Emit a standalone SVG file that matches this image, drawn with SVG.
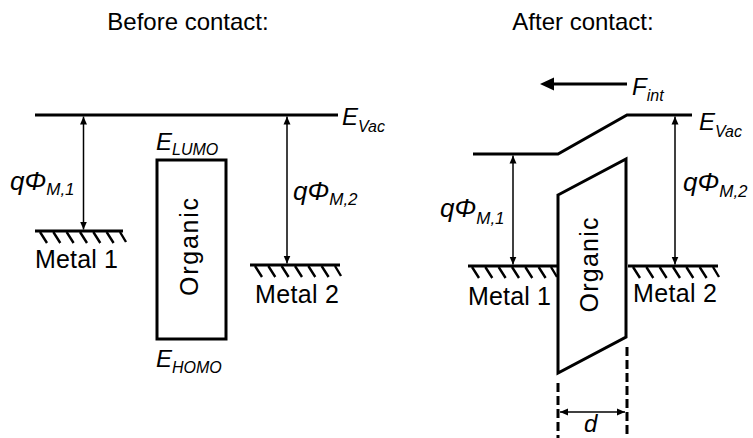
<svg xmlns="http://www.w3.org/2000/svg" width="753" height="438" viewBox="0 0 753 438">
<style>
.thick{stroke:#000;stroke-width:3;fill:none}
.hatch{stroke:#000;stroke-width:2.4;fill:none}
.arr{stroke:#000;stroke-width:1.5;fill:none;marker-start:url(#ah);marker-end:url(#ah)}
.dash{stroke:#000;stroke-width:3;fill:none;stroke-dasharray:9 4}
.title{font-family:"Liberation Sans",Arial,sans-serif;font-size:24px;fill:#000}
.lbl{font-family:"Liberation Sans",Arial,sans-serif;font-size:25px;fill:#000}
.it{font-family:"Liberation Sans",Arial,sans-serif;font-style:italic;font-size:24px;fill:#000}
.q{font-size:26px}
.sub{font-size:16px}
.qsub{font-size:17px}
</style>
<defs>
<marker id="ah" viewBox="0 0 8 8" refX="8" refY="4" markerWidth="8" markerHeight="8" markerUnits="userSpaceOnUse" orient="auto-start-reverse">
<path d="M0,0.5 L8,4 L0,7.5 Z" fill="#000"/>
</marker>
</defs>
<rect width="753" height="438" fill="#fff"/>

<text class="title" x="188" y="30" text-anchor="middle">Before contact:</text>
<text class="title" x="583" y="30" text-anchor="middle">After contact:</text>

<g id="connectors">
<path class="arr" d="M83.5,116.5 V229.5"/>
<path class="arr" d="M287,116.5 V263.5"/>
<path class="arr" d="M513,155.5 V264.5"/>
<path class="arr" d="M675,116.5 V264.5"/>
<path class="arr" d="M560,412 H625"/>
<path d="M627,84 H552" stroke="#000" stroke-width="3"/>
<path d="M540,84 L554,77.5 L554,90.5 Z" fill="#000"/>
</g>

<g id="evac-left">
<path class="thick" d="M35,115 H338"/>
<text class="it" x="342" y="125">E<tspan class="sub" dy="7">Vac</tspan></text>
</g>

<g id="metal1-left">
<path class="thick" d="M35,231 H123"/>
<path class="hatch" d="M40,232 l7,11 M53.3,232 l7,11 M66.6,232 l7,11 M80,232 l7,11 M93.3,232 l7,11 M106.6,232 l7,11 M120,232 l6,10"/>
<text class="lbl" x="35" y="268" textLength="83">Metal 1</text>
<text class="it q" x="10" y="190">qΦ<tspan class="qsub" dy="5">M,1</tspan></text>
</g>

<g id="organic-left">
<rect class="thick" x="157" y="160" width="69" height="179"/>
<text class="lbl" font-size="26" transform="translate(198,247) rotate(-90)" text-anchor="middle" textLength="98">Organic</text>
<text class="it" x="156" y="150" font-size="22">E<tspan class="sub" dy="5">LUMO</tspan></text>
<text class="it" x="156" y="367" font-size="22">E<tspan class="sub" dy="6">HOMO</tspan></text>
</g>

<g id="metal2-left">
<path class="thick" d="M250,265 H340"/>
<path class="hatch" d="M255,266 l7,11 M268.3,266 l7,11 M281.6,266 l7,11 M295,266 l7,11 M308.3,266 l7,11 M321.6,266 l7,11 M335,266 l6,10"/>
<text class="lbl" x="255" y="303" textLength="84">Metal 2</text>
<text class="it q" x="293" y="200">qΦ<tspan class="qsub" dy="5">M,2</tspan></text>
</g>

<g id="evac-right">
<path class="thick" d="M473,154 H558 L627,115 H692"/>
<text class="it" x="699" y="130">E<tspan class="sub" dy="7">Vac</tspan></text>
<text class="it" x="632" y="95">F<tspan class="sub" dy="6">int</tspan></text>
</g>

<g id="metal1-right">
<path class="thick" d="M468,266 H558"/>
<path class="hatch" d="M472,267 l7,11 M485.3,267 l7,11 M498.6,267 l7,11 M512,267 l7,11 M525.3,267 l7,11 M538.6,267 l7,11 M551,267 l6,10"/>
<text class="lbl" x="468" y="305" textLength="83">Metal 1</text>
<text class="it q" x="440" y="217">qΦ<tspan class="qsub" dy="7">M,1</tspan></text>
</g>

<g id="organic-right">
<path class="thick" d="M558,195 L626,159 V337 L558,373 Z"/>
<text class="lbl" font-size="26" transform="translate(598,265) rotate(-90)" text-anchor="middle" textLength="95">Organic</text>
<path class="dash" d="M558,383 V438"/>
<path class="dash" d="M627,347 V438"/>
<text class="it" x="584" y="432">d</text>
</g>

<g id="metal2-right">
<path class="thick" d="M628,266 H718"/>
<path class="hatch" d="M633,267 l7,11 M646.3,267 l7,11 M659.6,267 l7,11 M673,267 l7,11 M686.3,267 l7,11 M699.6,267 l7,11 M713,267 l6,10"/>
<text class="lbl" x="633" y="302" textLength="84">Metal 2</text>
<text class="it q" x="683" y="191">qΦ<tspan class="qsub" dy="6">M,2</tspan></text>
</g>
</svg>
